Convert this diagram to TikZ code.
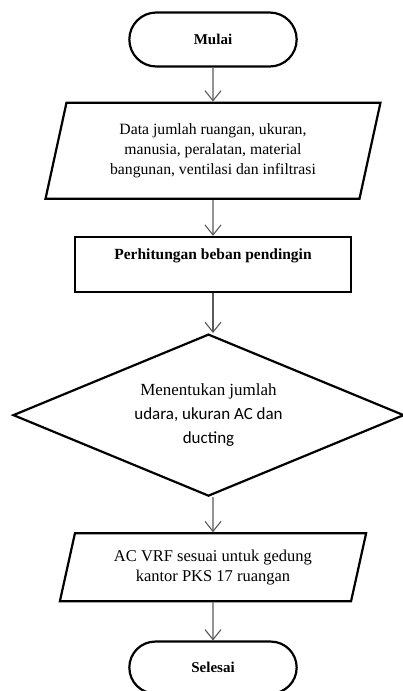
\documentclass[tikz,border=0pt]{standalone}
\usepackage{fontspec}
\setmainfont{Liberation Serif}
\newfontfamily\calibri{Carlito}
\usepackage{tikz}
\usetikzlibrary{shapes,arrows.meta,positioning}

\begin{document}
\begin{tikzpicture}[x=1pt, y=1pt, node distance=36pt,
    >={Straight Barb[length=10pt,width=16pt]},
    terminal/.style={rounded rectangle, draw, line width=2.2pt, minimum width=174pt, minimum height=54pt, font=\fontsize{15}{18}\selectfont\bfseries},
    io/.style={trapezium, trapezium stretches=true, trapezium left angle=76, trapezium right angle=104, draw, line width=2.2pt, align=center, font=\fontsize{16.5}{20}\selectfont},
    panah/.style={->, line width=1.1pt, draw=black!65}]
    \useasboundingbox (0,0) rectangle (403,-691);
    \node (mulai) [terminal] at (213,-39.5) {Mulai};
    \node (data) [io, below=34pt of mulai, minimum width=336pt, minimum height=96pt, font=\fontsize{15.7}{20}\selectfont] {Data jumlah ruangan, ukuran,\\ manusia, peralatan, material\\ bangunan, ventilasi dan infiltrasi};
    \node (hitung) [rectangle, draw, line width=2.2pt, below=36pt of data, minimum width=276pt, minimum height=55pt, text depth=20pt, font=\fontsize{15.5}{18}\selectfont\bfseries] {Perhitungan beban pendingin};
    \node (kep) [diamond, draw, line width=2.2pt, below=40pt of hitung, xshift=-4.5pt, shape aspect=2.41, minimum width=391pt, minimum height=162pt, inner sep=0pt, align=center, font=\fontsize{17}{24}\selectfont] {Menentukan jumlah\\ {\calibri udara, ukuran AC dan}\\ {\calibri ducting}};
    \node (hasil) [io, below=35pt of kep, xshift=4.5pt, trapezium left angle=75, trapezium right angle=105, minimum width=307pt, minimum height=68pt] {AC VRF sesuai untuk gedung\\ kantor PKS 17 ruangan};
    \node (selesai) [terminal, below=38pt of hasil, minimum height=52pt] {Selesai};

    \draw [panah] (mulai) -- (data);
    \draw [panah] (data) -- (hitung);
    \draw [panah] (hitung) -- (hitung |- kep.north);
    \draw [panah] (hasil |- kep.south) -- (hasil);
    \draw [panah] (hasil) -- (selesai);
\end{tikzpicture}
\end{document}
